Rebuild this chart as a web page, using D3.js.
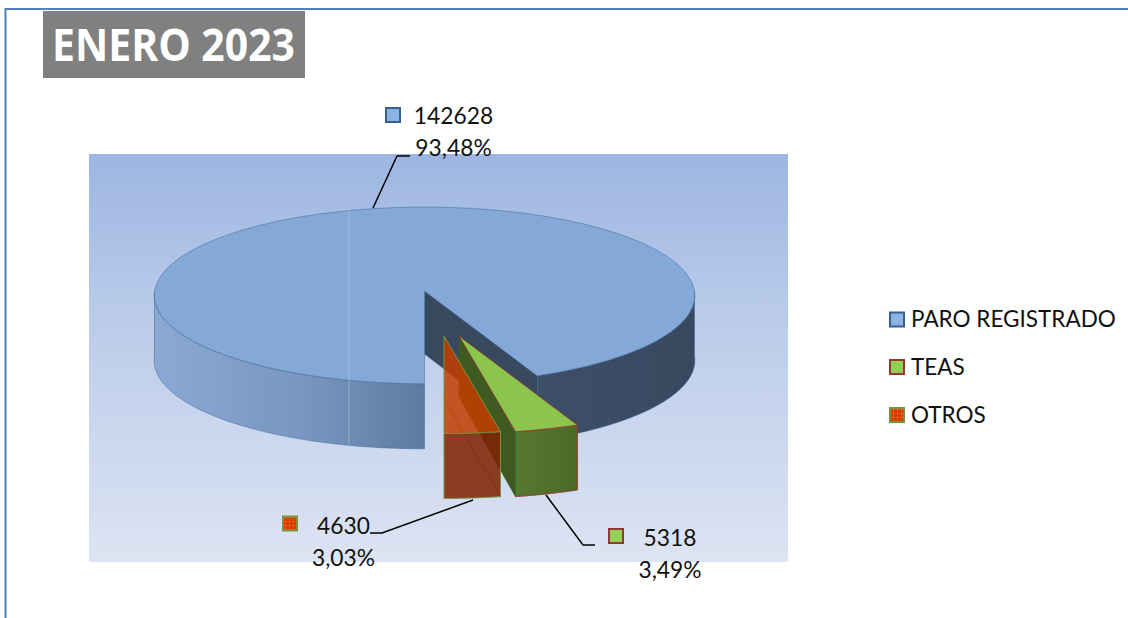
<!DOCTYPE html>
<html><head><meta charset="utf-8">
<script src="https://cdn.jsdelivr.net/npm/d3@7"></script>
<style>html,body{margin:0;padding:0;background:#fff}svg{display:block}text{font-family:Lato,"Open Sans",sans-serif}</style>
</head><body><svg id="c" width="1128" height="618"></svg>
<script>
const titleText = "ENERO 2023";
const categories = ["PARO REGISTRADO", "TEAS", "OTROS"];
const values = [142628, 5318, 4630];

const W = 1128, H = 618;
const svg = d3.select("#c");
const defs = svg.append("defs");
const LABEL_SIZE = 22.8;

// Layout and style settings
const disc = {cx: 424.5, cy: 291, rx: 270, ry: 88.2, k: 0.05, depth: 65};
const explode = [{dx: 0, dy: 0, s: 1}, {dx: 34.5, dy: 45, s: 1.05}, {dx: 19.5, dy: 45, s: 1.05}];
const fills = ["#8db3e2", "#92d050", "url(#otrosPat)"];
const strokes = ["#376092", "#953735", "#77933c"];
const legendY = [319.5, 367, 415];
const labelPos = [
  {sw: [393, 115], x: 453.5, y1: 124, y2: 156, leader: [[373, 208], [397, 156], [410, 156]]},
  {sw: [616, 536], x: 670, y1: 546, y2: 578, leader: [[546, 495], [583, 545], [595, 545]]},
  {sw: [290, 523.5], x: 343.5, y1: 534, y2: 566, leader: [[473, 500], [382, 533], [370, 533]]}
];

// Gradients and pattern
const grad = (id, x1, y1, x2, y2, stops) => {
  const g = defs.append("linearGradient").attr("id", id).attr("gradientUnits", "userSpaceOnUse")
    .attr("x1", x1).attr("y1", y1).attr("x2", x2).attr("y2", y2);
  stops.forEach(s => g.append("stop").attr("offset", s[0]).attr("stop-color", s[1]));
};
grad("bg", 0, 154, 0, 562, [[0, "#9db5e1"], [0.35, "#b7c9e9"], [1, "#dde4f3"]]);
grad("wallL", 154, 0, 426, 0, [[0, "#8aa9d4"], [0.55, "#7896c0"], [0.72, "#6f8cb4"], [1, "#5c7a9f"]]);
grad("wallR", 537, 0, 695, 0, [[0, "#3d5069"], [1, "#38495f"]]);
grad("teasFront", 515, 0, 577, 0, [[0, "#56792f"], [1, "#4c6a27"]]);
const pat = defs.append("pattern").attr("id", "otrosPat").attr("patternUnits", "userSpaceOnUse")
  .attr("width", 4).attr("height", 4);
pat.append("rect").attr("width", 4).attr("height", 4).attr("fill", "#dc3f00");
pat.append("rect").attr("width", 1).attr("height", 1).attr("x", 1).attr("y", 1).attr("fill", "#f2a070");

// Frame
svg.append("path").attr("d", `M5.5,${H}V9H${W}`).attr("fill", "none").attr("stroke", "#4f81bd").attr("stroke-width", 2);

// Title
svg.append("rect").attr("x", 43).attr("y", 11).attr("width", 262).attr("height", 67).attr("fill", "#808080");
svg.append("text").attr("x", 173.5).attr("y", 61).attr("text-anchor", "middle").attr("fill", "#fff")
  .style("font-family", "'Open Sans'").attr("font-weight", 700).attr("font-size", 44)
  .attr("textLength", 243).attr("lengthAdjust", "spacingAndGlyphs").text(titleText);

// Plot background
svg.append("rect").attr("x", 89).attr("y", 154).attr("width", 699).attr("height", 408).attr("fill", "url(#bg)");

// Projection of a tilted disc
const x = d3.scaleLinear().domain([-1, 1]).range([disc.cx - disc.rx, disc.cx + disc.rx]);
const y = d3.scaleLinear().domain([-1, 1]).range([disc.cy - disc.ry, disc.cy + disc.ry]);
const project = (a, r = 1) => {
  const u = r * Math.sin(a), v = -r * Math.cos(a), w = 1 - disc.k * v;
  return [x(u / w), y(v / w)];
};
const line = d3.line();
const arcPts = (a0, a1, e) => d3.range(0, 61).map(i => {
  const p = project(a0 + (a1 - a0) * i / 60);
  return [disc.cx + (p[0] - disc.cx) * e.s + e.dx, disc.cy + (p[1] - disc.cy) * e.s + e.dy];
});
const down = pts => pts.map(p => [p[0], p[1] + disc.depth]);

// Pie angles: the large slice starts at the front and runs clockwise
const pie = d3.pie().value(d => d).sort(null).startAngle(Math.PI).endAngle(3 * Math.PI);
const arcs = pie(values);
const total = d3.sum(values);
const pct = d3.formatLocale({decimal: ",", thousands: ".", grouping: [3], currency: ["", ""]}).format(".2%");

const [main, teas, otros] = arcs;
const poly = (pts, attrs) => {
  const p = svg.append("path").attr("d", line(pts) + "Z");
  Object.entries(attrs).forEach(([k, v]) => p.attr(k, v));
  return p;
};

// Main slice walls
const eM = explode[0];
const apexM = [disc.cx, disc.cy];
const rimM = arcPts(main.startAngle, main.endAngle, eM);
const leftArc = arcPts(main.startAngle, 1.5 * Math.PI, eM);
poly(leftArc.concat(down(leftArc).reverse()), {fill: "url(#wallL)", stroke: "#3f6797", "stroke-width": 0.5});
const rightArc = arcPts(2.5 * Math.PI, main.endAngle, eM);
poly(rightArc.concat(down(rightArc).reverse()), {fill: "url(#wallR)", stroke: "#3f6797", "stroke-width": 0.5});
const cutEnd = rimM[rimM.length - 1];
poly([apexM, cutEnd, [cutEnd[0], cutEnd[1] + disc.depth], [apexM[0], apexM[1] + disc.depth - 2]],
  {fill: "#37495f", stroke: "#3f6797", "stroke-width": 0.4});
// Main slice top
poly([apexM].concat(rimM), {fill: "#84a9d7", stroke: "#3f6797", "stroke-width": 0.5});
svg.append("line").attr("x1", 349).attr("x2", 349).attr("y1", 210).attr("y2", 447)
  .attr("stroke", "#b4cbe8").attr("stroke-width", 1).attr("opacity", 0.55);

// TEAS slice
const eT = explode[1];
const apexT = [disc.cx + eT.dx, disc.cy + eT.dy];
const rimT = arcPts(teas.startAngle, teas.endAngle, eT);
const tIn = rimT[rimT.length - 1], tOut = rimT[0];
poly([apexT, tIn, [tIn[0], tIn[1] + disc.depth], [apexT[0], apexT[1] + disc.depth - 4]],
  {fill: "#3f5a20", stroke: "#3f5a20", "stroke-width": 0.6});
poly(rimT.concat(down(rimT).reverse()), {fill: "url(#teasFront)", stroke: "#953735", "stroke-width": 1});
poly([apexT].concat(rimT), {fill: "#8bc54c", stroke: "#953735", "stroke-width": 0.9});

// OTROS slice, translucent
const eO = explode[2];
const apexO = [disc.cx + eO.dx, disc.cy + eO.dy];
const rimO = arcPts(otros.startAngle, otros.endAngle, eO);
const oIn = rimO[0];
poly(rimO.concat(down(rimO).reverse()), {fill: "#7f2405", "fill-opacity": 0.87, stroke: "#77933c", "stroke-width": 1});
svg.append("path").attr("d", line([[apexO[0], apexO[1] + disc.depth - 2], [oIn[0], oIn[1] + disc.depth]]))
  .attr("fill", "none").attr("stroke", "#7a2a00").attr("stroke-width", 1).attr("opacity", 0.6);
poly([apexO].concat(rimO), {fill: "#c43c00", "fill-opacity": 0.85, stroke: "#77933c", "stroke-width": 1});

// Swatch
const swatch = (cx, cy, i) => svg.append("rect").attr("x", cx - 7).attr("y", cy - 7).attr("width", 14).attr("height", 14)
  .attr("fill", fills[i]).attr("stroke", strokes[i]).attr("stroke-width", 2);

// Data labels and leaders
values.forEach((v, i) => {
  const l = labelPos[i];
  swatch(l.sw[0], l.sw[1], i);
  svg.append("text").attr("x", l.x).attr("y", l.y1).attr("text-anchor", "middle").attr("font-size", LABEL_SIZE).attr("fill", "#111").text(v);
  svg.append("text").attr("x", l.x).attr("y", l.y2).attr("text-anchor", "middle").attr("font-size", LABEL_SIZE).attr("fill", "#111").text(pct(v / total));
  svg.append("path").attr("d", line(l.leader)).attr("fill", "none").attr("stroke", "#000").attr("stroke-width", 1.5);
});

// Legend
categories.forEach((c, i) => {
  swatch(897, legendY[i], i);
  svg.append("text").attr("x", 911).attr("y", legendY[i] + 7.5).attr("font-size", 22.5).attr("fill", "#111").text(c);
});
</script></body></html>
